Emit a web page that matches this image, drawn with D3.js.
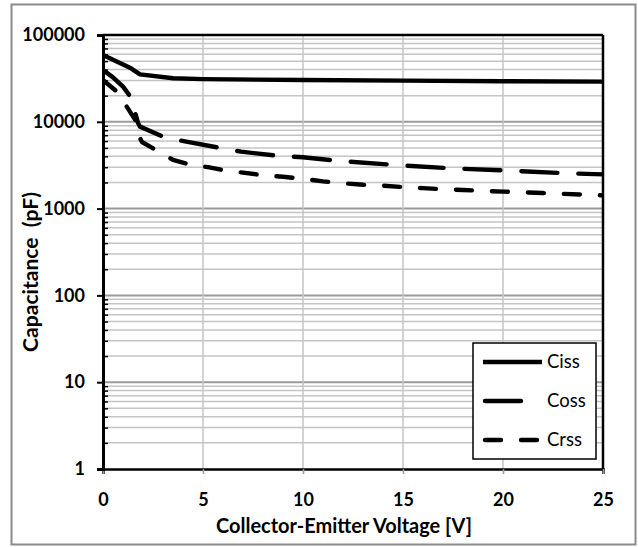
<!DOCTYPE html>
<html>
<head>
<meta charset="utf-8">
<script src="https://cdn.jsdelivr.net/npm/d3@7"></script>
<style>
html,body{margin:0;padding:0;background:#fff;}
svg{display:block;}
</style>
</head>
<body>
<svg id="chart" width="638" height="547"></svg>
<script>
// ---- data ----
const xTicks = [0, 5, 10, 15, 20, 25];
const yTicks = [1, 10, 100, 1000, 10000, 100000];
const seriesNames = ["Ciss", "Coss", "Crss"];

const cissV  = [0, 0.5, 1.4, 1.85, 3.5, 5, 10, 15, 20, 25];
const cissPF = [58900, 52000, 41300, 35200, 31700, 31000, 30300, 29800, 29300, 29000];

const cossV  = [0, 0.5, 1.0, 1.43, 1.6, 1.75, 1.85, 3.2, 4.1, 6.0, 6.9, 8.8, 10, 11.7, 14.6, 17.4, 20.3, 23.2, 25];
const cossPF = [39500, 32500, 25400, 18700, 13000, 9700, 8800, 6460, 5960, 4930, 4530, 4040, 3900, 3560, 3180, 2910, 2740, 2550, 2480];

const crssV  = [0, 0.7, 1.25, 1.7, 1.85, 1.95, 2.7, 3.5, 4.35, 5.25, 6.2, 7, 8, 9, 10, 11, 12, 13, 14, 15, 16, 17, 18, 19, 20, 21, 22, 23, 24, 25];
const crssPF = [30300, 22200, 14200, 9800, 6500, 5850, 4650, 3650, 3200, 3000, 2720, 2600, 2420, 2330, 2200, 2060, 1960, 1880, 1840, 1770, 1720, 1670, 1640, 1600, 1570, 1540, 1510, 1480, 1450, 1420];

// ---- layout ----
const svg = d3.select("#chart");
const L = 103, R = 603, T = 35, B = 469;
const x = d3.scaleLinear().domain([0, 25]).range([L, R]);
const y = d3.scaleLog().domain([1, 100000]).range([B, T]);
const FONT = "Lato, 'Open Sans', sans-serif";

// outer frame
svg.append("rect").attr("x", 11.5).attr("y", 4.5).attr("width", 624).attr("height", 540)
  .attr("fill", "#fff").attr("stroke", "#8a8a8a").attr("stroke-width", 2);

// minor values
const minorVals = [];
for (let d = 1; d < 100000; d *= 10) for (let k = 2; k <= 9; k++) minorVals.push(d * k);

const grid = svg.append("g");
grid.selectAll("line.minor").data(minorVals).join("line")
  .attr("x1", L).attr("x2", R).attr("y1", d => y(d)).attr("y2", d => y(d))
  .attr("stroke", "#c4c4c4").attr("stroke-width", 1.5);
grid.selectAll("line.major").data(yTicks.slice(1)).join("line")
  .attr("x1", L).attr("x2", R).attr("y1", d => y(d)).attr("y2", d => y(d))
  .attr("stroke", "#9a9a9a").attr("stroke-width", 2);
grid.selectAll("line.vx").data(xTicks.slice(1)).join("line")
  .attr("x1", d => x(d)).attr("x2", d => x(d)).attr("y1", T).attr("y2", B)
  .attr("stroke", "#c4c4c4").attr("stroke-width", 1.5);

// plot border top/right
svg.append("line").attr("x1", L).attr("x2", R).attr("y1", T).attr("y2", T).attr("stroke", "#000").attr("stroke-width", 2.5);
svg.append("line").attr("x1", R).attr("x2", R).attr("y1", T).attr("y2", B).attr("stroke", "#000").attr("stroke-width", 2.5);

// x axis
const xAxis = svg.append("g").attr("transform", `translate(0,${B})`)
  .call(d3.axisBottom(x).tickValues(xTicks).tickSize(5).tickPadding(19).tickFormat(d3.format("d")));
xAxis.select(".domain").attr("stroke", "#000").attr("stroke-width", 2.5);
xAxis.selectAll(".tick line").attr("stroke", "#9a9a9a").attr("stroke-width", 1.5);
xAxis.selectAll(".tick text").attr("font-family", FONT).attr("font-weight", "bold").attr("font-size", 18).attr("fill", "#000");

// y minor inside ticks
svg.append("g").attr("transform", `translate(${L},0)`)
  .call(d3.axisRight(y).tickValues(minorVals).tickSize(5).tickFormat(""))
  .call(g => g.select(".domain").remove())
  .selectAll(".tick line").attr("stroke", "#000").attr("stroke-width", 1.5);

// y axis
const yAxis = svg.append("g").attr("transform", `translate(${L},0)`)
  .call(d3.axisLeft(y).tickValues(yTicks).tickSize(6).tickPadding(12).tickFormat(d3.format("d")));
yAxis.select(".domain").attr("stroke", "#000").attr("stroke-width", 3);
yAxis.selectAll(".tick line").attr("stroke", "#000").attr("stroke-width", 2);
yAxis.selectAll(".tick text").attr("font-family", FONT).attr("font-weight", "bold").attr("font-size", 18).attr("fill", "#000");

// series
const styles = {
  Ciss: { dash: null },
  Coss: { dash: "36,21" },
  Crss: { dash: "16,20" }
};
const seriesData = {
  Ciss: d3.zip(cissV, cissPF),
  Coss: d3.zip(cossV, cossPF),
  Crss: d3.zip(crssV, crssPF)
};
const line = d3.line().x(d => x(d[0])).y(d => y(d[1]));
svg.append("defs").append("clipPath").attr("id", "clip")
  .append("rect").attr("x", L).attr("y", T - 3).attr("width", R - L).attr("height", B - T + 3);
const plot = svg.append("g").attr("clip-path", "url(#clip)");
seriesNames.forEach(n => {
  plot.append("path").datum(seriesData[n]).attr("d", line)
    .attr("fill", "none").attr("stroke", "#000").attr("stroke-width", 4.4)
    .attr("stroke-linecap", n === "Ciss" ? "butt" : "round")
    .attr("stroke-linejoin", "round")
    .attr("stroke-dasharray", styles[n].dash);
});

// legend
const lg = svg.append("g");
lg.append("rect").attr("x", 473).attr("y", 343).attr("width", 123).attr("height", 116)
  .attr("fill", "#fff").attr("stroke", "#000").attr("stroke-width", 1.5);
const legY = [362, 401, 440];
seriesNames.forEach((n, i) => {
  lg.append("line").attr("x1", n === "Ciss" ? 483 : 485).attr("x2", n === "Ciss" ? 542 : 540)
    .attr("y1", legY[i]).attr("y2", legY[i])
    .attr("stroke", "#000").attr("stroke-width", 4.4)
    .attr("stroke-linecap", n === "Ciss" ? "butt" : "round")
    .attr("stroke-dasharray", styles[n].dash);
  lg.append("text").attr("x", 547).attr("y", legY[i]).attr("dy", "0.35em")
    .attr("font-family", FONT).attr("font-size", 18.5).attr("fill", "#000").text(n);
});

// axis titles (font size fitted to the reference text widths)
function fitText(sel, target) {
  const w = sel.node().getComputedTextLength();
  const fs = parseFloat(sel.attr("font-size"));
  if (w > 0) sel.attr("font-size", fs * target / w);
}
const xt = svg.append("text").attr("x", 344).attr("y", 533).attr("text-anchor", "middle")
  .attr("font-family", FONT).attr("font-weight", "bold").attr("font-size", 18).attr("fill", "#000")
  .text("Collector-Emitter Voltage [V]");
fitText(xt, 256);
const yt = svg.append("text").attr("transform", "translate(38,272) rotate(-90)").attr("text-anchor", "middle")
  .style("white-space", "pre")
  .attr("font-family", FONT).attr("font-weight", "bold").attr("font-size", 18).attr("fill", "#000")
  .text("Capacitance  (pF)");
fitText(yt, 160);
</script>
</body>
</html>
